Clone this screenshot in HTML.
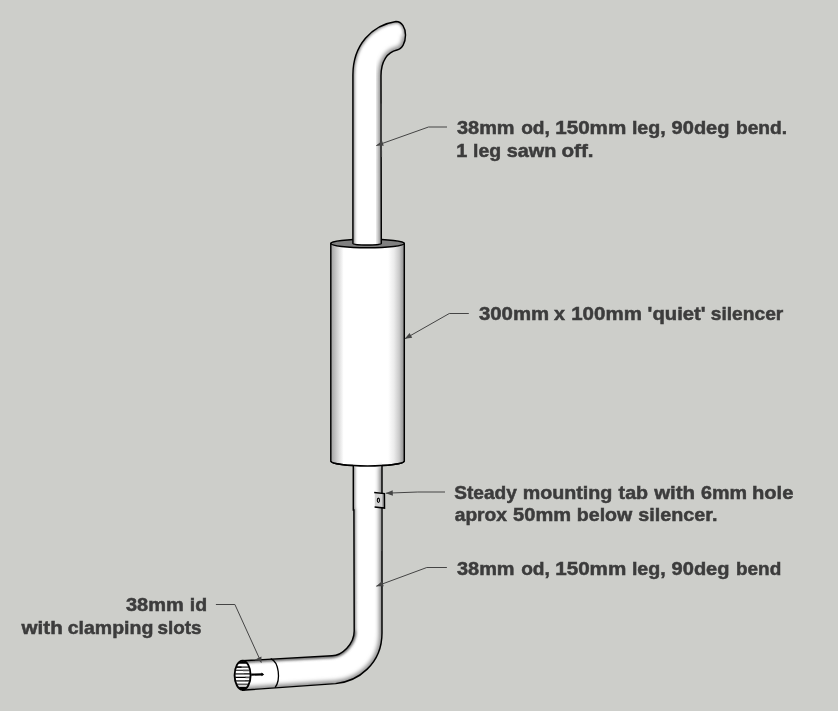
<!DOCTYPE html>
<html><head><meta charset="utf-8">
<style>
html,body{margin:0;padding:0;background:#cdceca;}
body{width:838px;height:711px;overflow:hidden;}
svg{display:block;}
text{font-family:"Liberation Sans",sans-serif;font-weight:bold;font-size:18.5px;fill:#3c3c3c;stroke:#3c3c3c;stroke-width:0.5px;}
</style></head><body>
<svg width="838" height="711" viewBox="0 0 838 711">
<defs>
  <filter id="bl" x="-20%" y="-20%" width="140%" height="140%"><feGaussianBlur stdDeviation="2"/></filter>
  <filter id="bls" x="-20%" y="-20%" width="140%" height="140%"><feGaussianBlur stdDeviation="1.5"/></filter>
  <linearGradient id="gSil" x1="330.8" y1="0" x2="404.3" y2="0" gradientUnits="userSpaceOnUse">
    <stop offset="0" stop-color="#a0a0a0"/>
    <stop offset="0.05" stop-color="#bcbcbc"/>
    <stop offset="0.12" stop-color="#e2e2e2"/>
    <stop offset="0.175" stop-color="#ffffff"/>
    <stop offset="0.78" stop-color="#ffffff"/>
    <stop offset="0.86" stop-color="#ebebeb"/>
    <stop offset="0.93" stop-color="#cacaca"/>
    <stop offset="0.97" stop-color="#a6a6a6"/>
    <stop offset="1" stop-color="#8a8a8a"/>
  </linearGradient>
  <clipPath id="cUp"><path d="M352.9,243 L352.9,75 C352.9,45 372,25 396,21.5 C402,21.5 405.5,28 405.5,35 C405.5,43 402,49 397,50 C387.5,52 381,61 381,76 L381.3,243.6 A14.2,1.5 0 0 1 352.9,243.6 Z"/></clipPath>
  <clipPath id="cLo"><path d="M353.3,460 L353.3,510 L353.9,510 L354.2,631 C354.2,644 342,655.5 332,655.8 L242,660.8 L242,690.2 L335.6,683.6 C358,681.5 382,664 382,633 L382,460 Z"/></clipPath>
  <clipPath id="cEnd"><ellipse cx="242.6" cy="675.2" rx="7.5" ry="14.2"/></clipPath>
</defs>

<!-- silencer -->
<path d="M330.8,243.5 L330.8,461 A36.75,5 0 0 0 404.3,461 L404.3,243.5 Z" fill="url(#gSil)" stroke="#000" stroke-width="1.45"/>
<ellipse cx="367.55" cy="243.5" rx="36.75" ry="4.2" fill="#808080" stroke="#000" stroke-width="1.45"/>

<!-- upper pipe -->
<path d="M352.9,243 L352.9,75 C352.9,45 372,25 396,21.5 C402,21.5 405.5,28 405.5,35 C405.5,43 402,49 397,50 C387.5,52 381,61 381,76 L381.3,243.6 A14.2,1.5 0 0 1 352.9,243.6 Z" fill="#fff"/>
<g clip-path="url(#cUp)">
  <path d="M352.9,250 L352.9,75 C352.9,45 372,25 396,21.5 C402,21.5 405.5,28 405.5,35" fill="none" stroke="#777" stroke-width="3.2" filter="url(#bls)"/>
  <path d="M405.5,35 C405.5,43 402,49 397,50 C387.5,52 381,61 381,76 L381.3,250" fill="none" stroke="#888" stroke-width="6" filter="url(#bl)"/>
</g>
<path d="M352.9,243 L352.9,75 C352.9,45 372,25 396,21.5 C402,21.5 405.5,28 405.5,35 C405.5,43 402,49 397,50 C387.5,52 381,61 381,76 L381.3,243.6 A14.2,1.5 0 0 1 352.9,243.6 Z" fill="none" stroke="#000" stroke-width="1.45"/>
<line x1="381.05" y1="103.6" x2="381.15" y2="157" stroke="#3e3e3e" stroke-width="1.7999999999999998"/>

<!-- lower pipe -->
<path d="M353.3,460 L353.3,510 L353.9,510 L354.2,631 C354.2,644 342,655.5 332,655.8 L242,660.8 L242,690.2 L335.6,683.6 C358,681.5 382,664 382,633 L382,460 Z" fill="#fff"/>
<g clip-path="url(#cLo)">
  <path d="M353.3,466 L353.3,510 L353.9,510 L354.2,631 C354.2,644 342,655.5 332,655.8 L242,660.8" fill="none" stroke="#777" stroke-width="3.2" filter="url(#bls)"/>
  <path d="M354.2,631 C354.2,644 342,655.5 332,655.8 L236,661.1" fill="none" stroke="#6a6a6a" stroke-width="3.4" filter="url(#bls)"/>
  <path d="M242,690.2 L335.6,683.6 C358,681.5 382,664 382,633 L382,466" fill="none" stroke="#888" stroke-width="6" filter="url(#bl)"/>
</g>
<path d="M353.3,466 L353.3,510 L353.9,510 L354.2,631 C354.2,644 342,655.5 332,655.8 L242,660.8" fill="none" stroke="#000" stroke-width="1.45"/>
<path d="M242,690.2 L335.6,683.6 C358,681.5 382,664 382,633 L382,466" fill="none" stroke="#000" stroke-width="1.45"/>
<line x1="382" y1="507.5" x2="382" y2="551" stroke="#3e3e3e" stroke-width="1.7999999999999998"/>
<path d="M330.8,461 A36.75,5 0 0 0 404.3,461" fill="none" stroke="#000" stroke-width="1.45"/>

<!-- sleeve -->
<path d="M270.7,658.6 C279,662 281,680 275,687.6" fill="none" stroke="#000" stroke-width="1.3"/>
<!-- end -->
<ellipse cx="242.6" cy="675.2" rx="8.0" ry="14.6" fill="#fff"/>
<g clip-path="url(#cEnd)">
<line x1="235.0" y1="662.2" x2="250.0" y2="662.2" stroke="#000" stroke-width="3.0"/>
<line x1="235.0" y1="667.1" x2="250.0" y2="667.1" stroke="#5a5a5a" stroke-width="1.7"/>
<line x1="235.0" y1="667.1" x2="241.5" y2="667.1" stroke="#000" stroke-width="1.1"/>
<line x1="234.5" y1="670.3" x2="243.0" y2="670.3" stroke="#000" stroke-width="1.1"/>
<line x1="243.0" y1="670.3" x2="251.0" y2="670.3" stroke="#5a5a5a" stroke-width="1.7"/>
<line x1="234.5" y1="673.8" x2="244.0" y2="673.8" stroke="#5a5a5a" stroke-width="1.7"/>
<line x1="244.0" y1="673.8" x2="251.0" y2="673.8" stroke="#000" stroke-width="1.2"/>
<line x1="234.5" y1="677.4" x2="246.0" y2="677.4" stroke="#000" stroke-width="1.2"/>
<line x1="245.5" y1="677.4" x2="251.0" y2="677.4" stroke="#5a5a5a" stroke-width="1.7"/>
<line x1="234.5" y1="680.9" x2="245.0" y2="680.9" stroke="#5a5a5a" stroke-width="1.7"/>
<line x1="245.0" y1="680.9" x2="251.0" y2="680.9" stroke="#000" stroke-width="1.2"/>
<line x1="235.0" y1="684.3" x2="250.0" y2="684.3" stroke="#5a5a5a" stroke-width="1.7"/>
<line x1="236.0" y1="687.4" x2="249.0" y2="687.4" stroke="#000" stroke-width="1.3"/>
<line x1="236.0" y1="689.2" x2="249.0" y2="689.2" stroke="#000" stroke-width="2.6"/>
</g>
<ellipse cx="242.6" cy="675.2" rx="8.0" ry="14.6" fill="none" stroke="#000" stroke-width="1.9"/>
<line x1="251.2" y1="674.6" x2="262.5" y2="674.4" stroke="#000" stroke-width="2.2"/>
<path d="M261.5,672.6 L264.2,674.4 L261.5,676.2 Z" fill="#000"/>

<!-- tab -->
<path d="M374.8,492.8 L384.2,493.7 L384.2,507.9 L374.8,507.2 Z" fill="#d2d2d2"/>
<path d="M382.2,493.5 L384,493.7 L384,507.9 L382.2,507.8 Z" fill="#a4a4a4"/>
<path d="M374.2,492.4 L384.4,493.6 L384.5,508.1 L374.6,507" fill="none" stroke="#000" stroke-width="1.5"/>
<ellipse cx="378.4" cy="500.3" rx="1.1" ry="2.2" fill="none" stroke="#000" stroke-width="1.1"/>

<!-- leaders -->
<g fill="none" stroke="#444" stroke-width="1">
<polyline points="376.3,145.6 428.5,127.0 447.0,127.0"/>
<polyline points="404.8,338.8 449.3,313.5 468.8,313.5"/>
<polyline points="385.8,493.2 417.8,492.0 445.0,492.0"/>
<polyline points="376.3,586.2 426.8,567.5 446.9,567.5"/>
<polyline points="261.3,662.6 234.9,604.5 215.9,604.5"/>
</g>
<g fill="#444">
<path d="M376.30,145.60 L383.80,145.79 L381.99,140.71 Z"/>
<path d="M404.80,338.80 L412.22,337.69 L409.55,332.99 Z"/>
<path d="M385.80,493.20 L392.90,495.64 L392.69,490.24 Z"/>
<path d="M376.30,586.20 L383.80,586.30 L381.93,581.24 Z"/>
<path d="M261.30,662.60 L261.48,656.48 L256.57,658.71 Z"/>
</g>

<!-- text -->
<g style="will-change:transform">
<text x="456.98" y="134.4" textLength="57.60" lengthAdjust="spacingAndGlyphs">38mm</text>
<text x="521.16" y="134.4" textLength="28.70" lengthAdjust="spacingAndGlyphs">od,</text>
<text x="555.21" y="134.4" textLength="71.04" lengthAdjust="spacingAndGlyphs">150mm</text>
<text x="631.92" y="134.4" textLength="33.76" lengthAdjust="spacingAndGlyphs">leg,</text>
<text x="671.63" y="134.4" textLength="57.85" lengthAdjust="spacingAndGlyphs">90deg</text>
<text x="735.96" y="134.4" textLength="51.13" lengthAdjust="spacingAndGlyphs">bend.</text>
<text x="456.35" y="157.3" textLength="11.06" lengthAdjust="spacingAndGlyphs">1</text>
<text x="473.03" y="157.3" textLength="28.04" lengthAdjust="spacingAndGlyphs">leg</text>
<text x="506.77" y="157.3" textLength="49.65" lengthAdjust="spacingAndGlyphs">sawn</text>
<text x="561.43" y="157.3" textLength="32.05" lengthAdjust="spacingAndGlyphs">off.</text>
<text x="478.97" y="320.4" textLength="70.17" lengthAdjust="spacingAndGlyphs">300mm</text>
<text x="554.08" y="320.4" textLength="10.99" lengthAdjust="spacingAndGlyphs">x</text>
<text x="571.22" y="320.4" textLength="70.63" lengthAdjust="spacingAndGlyphs">100mm</text>
<text x="647.59" y="320.4" textLength="58.04" lengthAdjust="spacingAndGlyphs">'quiet'</text>
<text x="710.79" y="320.4" textLength="72.47" lengthAdjust="spacingAndGlyphs">silencer</text>
<text x="454.31" y="498.6" textLength="62.55" lengthAdjust="spacingAndGlyphs">Steady</text>
<text x="522.73" y="498.6" textLength="89.61" lengthAdjust="spacingAndGlyphs">mounting</text>
<text x="618.61" y="498.6" textLength="29.48" lengthAdjust="spacingAndGlyphs">tab</text>
<text x="654.16" y="498.6" textLength="40.98" lengthAdjust="spacingAndGlyphs">with</text>
<text x="701.04" y="498.6" textLength="46.04" lengthAdjust="spacingAndGlyphs">6mm</text>
<text x="751.98" y="498.6" textLength="41.43" lengthAdjust="spacingAndGlyphs">hole</text>
<text x="454.70" y="521.2" textLength="52.36" lengthAdjust="spacingAndGlyphs">aprox</text>
<text x="513.14" y="521.2" textLength="57.94" lengthAdjust="spacingAndGlyphs">50mm</text>
<text x="576.84" y="521.2" textLength="55.49" lengthAdjust="spacingAndGlyphs">below</text>
<text x="638.37" y="521.2" textLength="79.03" lengthAdjust="spacingAndGlyphs">silencer.</text>
<text x="456.98" y="574.7" textLength="57.60" lengthAdjust="spacingAndGlyphs">38mm</text>
<text x="521.16" y="574.7" textLength="28.70" lengthAdjust="spacingAndGlyphs">od,</text>
<text x="555.21" y="574.7" textLength="71.04" lengthAdjust="spacingAndGlyphs">150mm</text>
<text x="631.92" y="574.7" textLength="33.76" lengthAdjust="spacingAndGlyphs">leg,</text>
<text x="671.63" y="574.7" textLength="57.85" lengthAdjust="spacingAndGlyphs">90deg</text>
<text x="735.98" y="574.7" textLength="45.25" lengthAdjust="spacingAndGlyphs">bend</text>
<text x="125.98" y="611.3" textLength="57.80" lengthAdjust="spacingAndGlyphs">38mm</text>
<text x="189.72" y="611.3" textLength="17.31" lengthAdjust="spacingAndGlyphs">id</text>
<text x="21.56" y="634" textLength="41.19" lengthAdjust="spacingAndGlyphs">with</text>
<text x="67.76" y="634" textLength="85.62" lengthAdjust="spacingAndGlyphs">clamping</text>
<text x="157.49" y="634" textLength="44.08" lengthAdjust="spacingAndGlyphs">slots</text>
</g>
</svg>
</body></html>
